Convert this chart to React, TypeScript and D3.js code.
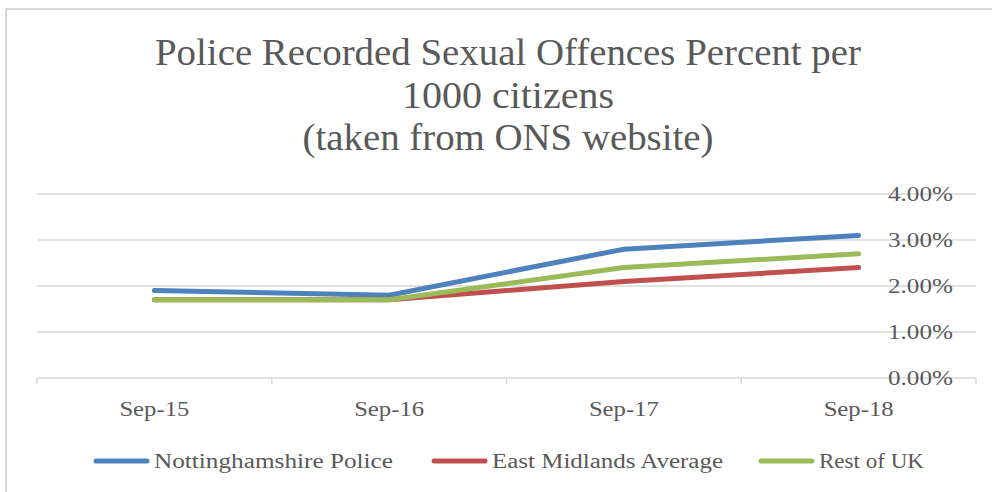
import * as d3 from "d3";

const width = 992;
const height = 492;

// categories and series
const periods = ["Sep-15", "Sep-16", "Sep-17", "Sep-18"];
const nottsPolice = [0.019, 0.018, 0.028, 0.031];
const eastMidlands = [0.017, 0.017, 0.021, 0.024];
const restOfUK = [0.017, 0.017, 0.024, 0.027];
const yTicks = [0, 0.01, 0.02, 0.03, 0.04];
const titleLines = [
  "Police Recorded Sexual Offences Percent per",
  "1000 citizens",
  "(taken from ONS website)",
];

const series = [
  { name: "Nottinghamshire Police", values: nottsPolice, color: "#4f81bd" },
  { name: "East Midlands Average", values: eastMidlands, color: "#c0504d" },
  { name: "Rest of UK", values: restOfUK, color: "#9bbb59" },
];

const font = "'Liberation Serif', 'Times New Roman', serif";
const textColor = "#595959";
const gridColor = "#d9d9d9";

// measured widths so Times-like glyphs cover the same ground as the original
const titleWidths = [706, 212, 411];
const titleBaselines = [65, 108, 150];
const legendLayout = [
  { x: 94, textWidth: 239 },
  { x: 432, textWidth: 231 },
  { x: 759, textWidth: 105 },
];

const App = () => {
  const x = d3.scaleBand<string>().domain(periods).range([37, 976]);
  const y = d3.scaleLinear().domain([0, 0.04]).range([378, 194]);
  const fmt = d3.format(".2%");

  const line = d3
    .line<number>()
    .x((_, i) => (x(periods[i]) ?? 0) + x.bandwidth() / 2)
    .y(d => y(d));

  const tickXs = periods.map(p => x(p) ?? 0).concat([x.range()[1]]);

  return (
    <svg
      width={width}
      height={height}
      style={{ position: "absolute", left: 0, top: 0, background: "#fff" }}
    >
      {/* chart border */}
      <path d={`M6,${height} V9 H${width}`} fill="none" stroke={gridColor} strokeWidth={2} />

      {titleLines.map((t, i) => (
        <text
          key={t}
          x={508}
          y={titleBaselines[i]}
          textAnchor="middle"
          fontFamily={font}
          fontSize={37}
          fill={textColor}
          textLength={titleWidths[i]}
          lengthAdjust="spacingAndGlyphs"
        >
          {t}
        </text>
      ))}

      {/* gridlines */}
      {yTicks.slice(1).map(t => (
        <line key={t} x1={37} x2={976} y1={y(t)} y2={y(t)} stroke={gridColor} strokeWidth={1.5} />
      ))}

      {/* x axis */}
      <line x1={37} x2={976} y1={y(0)} y2={y(0)} stroke={gridColor} strokeWidth={1.5} />
      {tickXs.map(tx => (
        <line key={tx} x1={tx} x2={tx} y1={y(0)} y2={y(0) + 6} stroke={gridColor} strokeWidth={1.5} />
      ))}

      {/* y labels */}
      {yTicks.map(t => (
        <text
          key={t}
          x={888}
          y={y(t) + 7}
          fontFamily={font}
          fontSize={20}
          fill={textColor}
          textLength={65}
          lengthAdjust="spacingAndGlyphs"
        >
          {fmt(t)}
        </text>
      ))}

      {/* x labels */}
      {periods.map(p => (
        <text
          key={p}
          x={(x(p) ?? 0) + x.bandwidth() / 2}
          y={416}
          textAnchor="middle"
          fontFamily={font}
          fontSize={20}
          fill={textColor}
          textLength={70}
          lengthAdjust="spacingAndGlyphs"
        >
          {p}
        </text>
      ))}

      {/* series lines */}
      {series.map(s => (
        <path
          key={s.name}
          d={line(s.values) ?? ""}
          fill="none"
          stroke={s.color}
          strokeWidth={5}
          strokeLinecap="round"
          strokeLinejoin="round"
        />
      ))}

      {/* legend */}
      {series.map((s, i) => {
        const l = legendLayout[i];
        return (
          <g key={s.name}>
            <line x1={l.x + 2} x2={l.x + 53} y1={461} y2={461} stroke={s.color} strokeWidth={5} strokeLinecap="round" />
            <text
              x={l.x + 60}
              y={468}
              fontFamily={font}
              fontSize={20}
              fill={textColor}
              textLength={l.textWidth}
              lengthAdjust="spacingAndGlyphs"
            >
              {s.name}
            </text>
          </g>
        );
      })}
    </svg>
  );
};

export default App;
